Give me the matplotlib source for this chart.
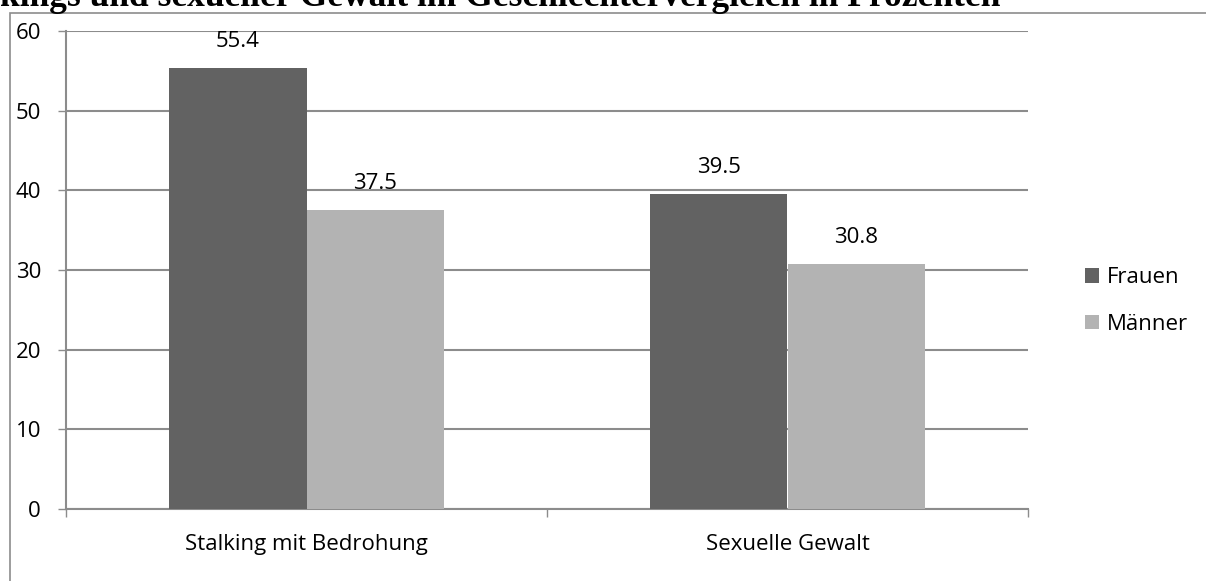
import matplotlib.pyplot as plt
import matplotlib.patches as mpatches
import numpy as np

categories = ["Stalking mit Bedrohung", "Sexuelle Gewalt"]
frauen = [55.4, 39.5]
maenner = [37.5, 30.8]
series_names = ["Frauen", "Männer"]
title = "kings und sexueller Gewalt im Geschlechtervergleich in Prozenten"

plt.rcParams['font.family'] = ['Open Sans', 'DejaVu Sans']

fig = plt.figure(figsize=(12.06, 5.81), dpi=100)

# chart frame (clipped at right and bottom like the screenshot)
frame = mpatches.Rectangle((10 / 1206, -0.1), 1.2, 1 - 13 / 581 + 0.1,
                           transform=fig.transFigure, fill=False,
                           edgecolor='#8c8c8c', linewidth=1.2)
fig.add_artist(frame)

fig.text(0, 1 - 6 / 581, title, family='Liberation Serif', weight='bold',
         fontsize=25.5, va='baseline', ha='left')

ax = fig.add_axes([66 / 1206, 1 - 509 / 581, (1028 - 66) / 1206, (509 - 31) / 581])

x = np.arange(len(categories))
w = 0.285
b1 = ax.bar(x - w / 2, frauen, w, color='#626262', label=series_names[0], zorder=3)
b2 = ax.bar(x + w / 2, maenner, w, color='#b3b3b3', label=series_names[1], zorder=3)

for bars, vals in ((b1, frauen), (b2, maenner)):
    for r, v in zip(bars, vals):
        ax.text(r.get_x() + r.get_width() / 2, v + 2.0, f"{v:.1f}",
                ha='center', va='bottom', fontsize=16)

ax.set_xlim(-0.5, 1.5)
ax.set_ylim(0, 60)
ax.set_yticks(range(0, 61, 10))
ax.yaxis.grid(True, color='#8c8c8c', linewidth=1.5, zorder=0)
ax.set_xticks(x)
ax.set_xticklabels(categories, fontsize=16)
ax.tick_params(axis='x', length=0, pad=18)
ax.set_xticks([-0.5, 0.5, 1.5], minor=True)
ax.tick_params(axis='x', which='minor', length=6, color='#8c8c8c', width=1)
ax.tick_params(axis='y', length=6, color='#8c8c8c', width=1, labelsize=16, pad=12)

for s in ['top', 'right']:
    ax.spines[s].set_visible(False)
ax.spines['left'].set_color('#8c8c8c')
ax.spines['left'].set_linewidth(1.5)
ax.spines['bottom'].set_color('#8c8c8c')
ax.spines['bottom'].set_linewidth(1.5)

ax.legend(loc='center left', bbox_to_anchor=(1.038, 0.435), frameon=False,
          fontsize=16, handlelength=0.65, handleheight=0.65, labelspacing=1.15,
          handletextpad=0.35)

fig.savefig('out.png', dpi=100)
